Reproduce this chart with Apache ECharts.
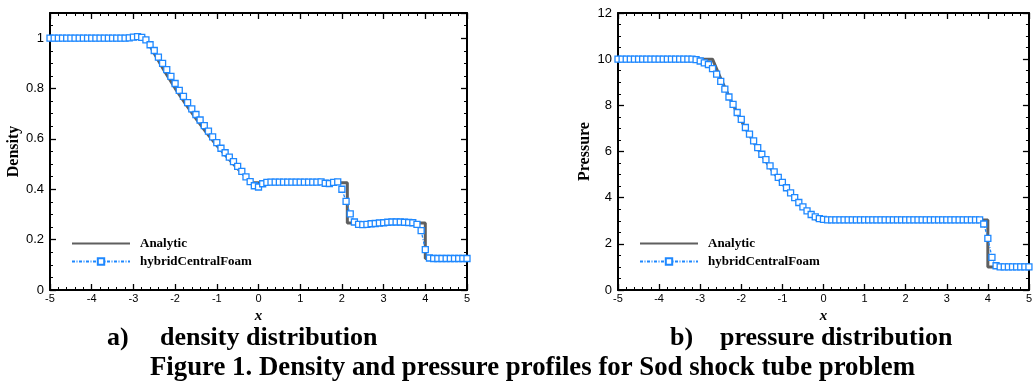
<!DOCTYPE html>
<html>
<head>
<meta charset="utf-8">
<script src="https://cdn.jsdelivr.net/npm/echarts@6/dist/echarts.min.js"></script>
<style>
  html, body { margin: 0; padding: 0; background: #fff; }
  #chart { width: 1035px; height: 383px; }
</style>
</head>
<body>
<div id="chart"></div>
<script>
// cell centres of the numerical solution
const xCells = [
  -5.0, -4.9, -4.8, -4.7, -4.6, -4.5, -4.4, -4.3, -4.2, -4.1,
  -4.0, -3.9, -3.8, -3.7, -3.6, -3.5, -3.4, -3.3, -3.2, -3.1,
  -3.0, -2.9, -2.8, -2.7, -2.6, -2.5, -2.4, -2.3, -2.2, -2.1,
  -2.0, -1.9, -1.8, -1.7, -1.6, -1.5, -1.4, -1.3, -1.2, -1.1,
  -1.0, -0.9, -0.8, -0.7, -0.6, -0.5, -0.4, -0.3, -0.2, -0.1,
  0.0, 0.1, 0.2, 0.3, 0.4, 0.5, 0.6, 0.7, 0.8, 0.9,
  1.0, 1.1, 1.2, 1.3, 1.4, 1.5, 1.6, 1.7, 1.8, 1.9,
  2.0, 2.1, 2.2, 2.3, 2.4, 2.5, 2.6, 2.7, 2.8, 2.9,
  3.0, 3.1, 3.2, 3.3, 3.4, 3.5, 3.6, 3.7, 3.8, 3.9,
  4.0, 4.1, 4.2, 4.3, 4.4, 4.5, 4.6, 4.7, 4.8, 4.9,
  5.0
];

const densityFoam = [
  1.0, 1.0, 1.0, 1.0, 1.0, 1.0, 1.0, 1.0, 1.0, 1.0,
  1.0, 1.0, 1.0, 1.0, 1.0, 1.0, 1.0, 1.0, 1.0, 1.001,
  1.004, 1.006, 1.003, 0.993, 0.974, 0.951, 0.925, 0.900, 0.875, 0.848,
  0.820, 0.793, 0.769, 0.744, 0.719, 0.697, 0.675, 0.653, 0.631, 0.608,
  0.585, 0.563, 0.545, 0.528, 0.510, 0.491, 0.471, 0.449, 0.430, 0.414,
  0.409, 0.422, 0.427, 0.428, 0.428, 0.428, 0.428, 0.428, 0.428, 0.428,
  0.428, 0.428, 0.428, 0.428, 0.428, 0.429, 0.424, 0.423, 0.427, 0.429,
  0.400, 0.352, 0.302, 0.270, 0.261, 0.260, 0.261, 0.263, 0.264, 0.266,
  0.267, 0.269, 0.270, 0.270, 0.270, 0.269, 0.268, 0.267, 0.261, 0.236,
  0.160, 0.127, 0.125, 0.125, 0.125, 0.125, 0.125, 0.125, 0.125, 0.125,
  0.125
];

const pressureFoam = [
  10, 10, 10, 10, 10, 10, 10, 10, 10, 10,
  10, 10, 10, 10, 10, 10, 10, 10, 10, 9.98,
  9.92, 9.84, 9.77, 9.59, 9.35, 9.04, 8.70, 8.36, 8.04, 7.69,
  7.39, 7.04, 6.75, 6.46, 6.17, 5.88, 5.65, 5.38, 5.12, 4.88,
  4.66, 4.43, 4.21, 4.00, 3.79, 3.60, 3.43, 3.27, 3.17, 3.09,
  3.06, 3.04, 3.04, 3.04, 3.04, 3.04, 3.04, 3.04, 3.04, 3.04,
  3.04, 3.04, 3.04, 3.04, 3.04, 3.04, 3.04, 3.04, 3.04, 3.04,
  3.04, 3.04, 3.04, 3.04, 3.04, 3.04, 3.04, 3.04, 3.04, 3.04,
  3.04, 3.04, 3.04, 3.04, 3.04, 3.04, 3.04, 3.04, 3.04, 2.86,
  2.24, 1.41, 1.05, 1.0, 1.0, 1.0, 1.0, 1.0, 1.0, 1.0,
  1.0
];

// exact solution, read at the break points of the curve
const analyticX   = [-5, -2.7, -2.5, -2.25, -2.0, -1.75, -1.5, -1.25, -1.0, -0.75, -0.5, -0.3, -0.16, 2.13, 2.13, 4.0, 4.0, 5];
const analyticRho = [1, 1, 0.939, 0.868, 0.801, 0.739, 0.681, 0.625, 0.574, 0.527, 0.482, 0.449, 0.426, 0.426, 0.266, 0.266, 0.125, 0.125];
const analyticP   = [10, 10, 9.16, 8.20, 7.33, 6.55, 5.84, 5.18, 4.60, 4.07, 3.60, 3.26, 3.03, 3.03, 3.03, 3.03, 1.0, 1.0];

const SERIF = 'Liberation Serif';
const SANS = 'Liberation Sans';
const BLUE = '#1e88ff';
const GRAY = '#5f5f5f';

function pairs(xs, ys) {
  return xs.map((x, i) => [x, ys[i]]);
}

function xAxisPair(grid) {
  const base = {
    gridIndex: grid,
    type: 'value',
    min: -5,
    max: 5,
    interval: 1,
    axisLine: {onZero: false, lineStyle: {color: '#000', width: 2}},
    axisTick: {inside: true, length: 6, lineStyle: {color: '#000', width: 1.3}},
    minorTick: {show: true, splitNumber: 5, length: 3, lineStyle: {color: '#000', width: 1}},
    splitLine: {show: false}
  };
  return [
    Object.assign({}, base, {
      position: 'bottom',
      axisLabel: {color: '#000', fontFamily: SANS, fontSize: 11, margin: 3},
      name: 'x',
      nameLocation: 'middle',
      nameGap: 11,
      nameTextStyle: {color: '#000', fontFamily: SERIF, fontWeight: 'bold', fontStyle: 'italic', fontSize: 15}
    }),
    Object.assign({}, base, {position: 'top', axisLabel: {show: false}})
  ];
}

function yAxis(grid, position, opts) {
  return Object.assign({
    gridIndex: grid,
    type: 'value',
    position: position,
    axisLine: {show: true, onZero: false, lineStyle: {color: '#000', width: 2}},
    axisTick: {inside: true, length: 6, lineStyle: {color: '#000', width: 1.3}},
    axisLabel: {show: false},
    splitLine: {show: false}
  }, opts);
}

const yLabel = {color: '#000', fontFamily: SANS, fontSize: 13, margin: 6};
const yName = {color: '#000', fontFamily: SERIF, fontWeight: 'bold', fontSize: 16};
const minorTickStyle = {inside: true, length: 3, lineStyle: {color: '#000', width: 1}};
const noLine = {show: false, onZero: false};
const minorTick4 = {show: true, splitNumber: 4, length: 3, lineStyle: {color: '#000', width: 1}};

const yAxes = [
  // density, grid 0
  yAxis(0, 'left', {min: 0, max: 1.1, interval: 0.2,
    axisLabel: Object.assign({showMaxLabel: false}, yLabel),
    name: 'Density', nameLocation: 'middle', nameGap: 26, nameTextStyle: yName}),
  yAxis(0, 'left', {min: 0, max: 1.1, interval: 0.05, axisLine: noLine, axisTick: minorTickStyle}),
  yAxis(0, 'right', {min: 0, max: 1.1, interval: 0.2}),
  yAxis(0, 'right', {min: 0, max: 1.1, interval: 0.05, axisLine: noLine, axisTick: minorTickStyle}),
  // pressure, grid 1
  yAxis(1, 'left', {min: 0, max: 12, interval: 2, axisLabel: yLabel, minorTick: minorTick4,
    name: 'Pressure', nameLocation: 'middle', nameGap: 25, nameTextStyle: yName}),
  yAxis(1, 'right', {min: 0, max: 12, interval: 2, minorTick: minorTick4})
];

function analyticSeries(xi, yi, data) {
  return {
    name: 'Analytic', type: 'line', xAxisIndex: xi, yAxisIndex: yi,
    data: data, symbol: 'none', z: 2,
    lineStyle: {color: GRAY, width: 3},
    itemStyle: {color: GRAY}
  };
}

function foamSeries(xi, yi, data) {
  return {
    name: 'hybridCentralFoam', type: 'line', xAxisIndex: xi, yAxisIndex: yi,
    data: data, symbol: 'rect', symbolSize: 6, showAllSymbol: true, z: 3,
    lineStyle: {color: BLUE, width: 1.3, type: [3, 1.5, 1, 1.5]},
    itemStyle: {color: '#fff', borderColor: BLUE, borderWidth: 1.3}
  };
}

function legendAt(left) {
  return {
    left: left, top: 232, orient: 'vertical',
    data: [
      {name: 'Analytic', itemStyle: {color: 'rgba(0,0,0,0)', borderColor: 'rgba(0,0,0,0)', borderWidth: 0, opacity: 0}},
      'hybridCentralFoam'
    ],
    itemWidth: 58, itemHeight: 8, itemGap: 5,
    selectedMode: false,
    textStyle: {color: '#000', fontFamily: SERIF, fontWeight: 'bold', fontSize: 13, padding: [0, 0, 0, 5]}
  };
}

const captionFont = 'bold 26px "' + SERIF + '"';
const figureFont = 'bold 26.8px "' + SERIF + '"';

const option = {
  animation: false,
  backgroundColor: '#fff',
  grid: [
    {left: 50, top: 13, width: 417, height: 277},
    {left: 618, top: 13, width: 416, height: 277}
  ],
  xAxis: [].concat(xAxisPair(0), xAxisPair(1)),
  yAxis: yAxes,
  legend: [legendAt(66), legendAt(634)],
  series: [
    analyticSeries(0, 0, pairs(analyticX, analyticRho)),
    foamSeries(0, 0, pairs(xCells, densityFoam)),
    analyticSeries(2, 4, pairs(analyticX, analyticP)),
    foamSeries(2, 4, pairs(xCells, pressureFoam))
  ],
  graphic: [
    {type: 'text', left: 107, top: 325, style: {text: 'a)', font: captionFont, fill: '#000'}},
    {type: 'text', left: 160, top: 325, style: {text: 'density distribution', font: captionFont, fill: '#000'}},
    {type: 'text', left: 670, top: 325, style: {text: 'b)', font: captionFont, fill: '#000'}},
    {type: 'text', left: 720, top: 325, style: {text: 'pressure distribution', font: captionFont, fill: '#000'}},
    {type: 'text', left: 150, top: 355, style: {text: 'Figure 1. Density and pressure profiles for Sod shock tube problem', font: figureFont, fill: '#000'}}
  ]
};

const chart = echarts.init(document.getElementById('chart'), null, {renderer: 'canvas'});
chart.setOption(option);
</script>
</body>
</html>
